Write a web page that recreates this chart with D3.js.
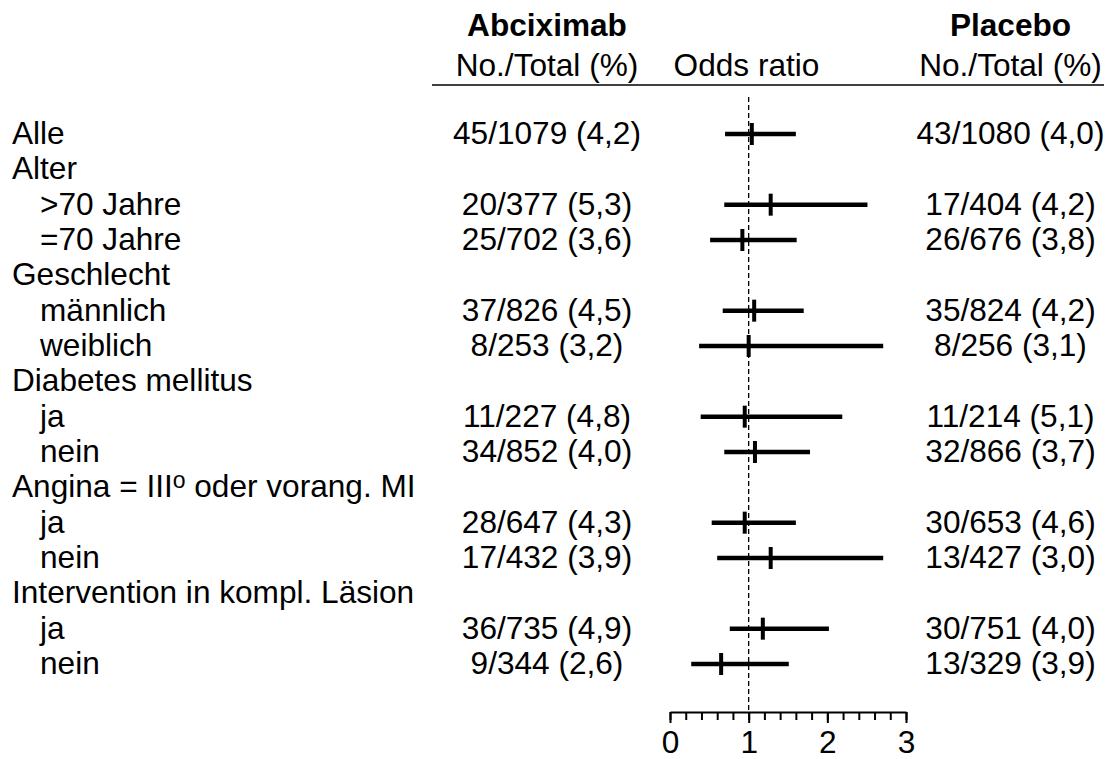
<!DOCTYPE html>
<html>
<head>
<meta charset="utf-8">
<script src="https://cdn.jsdelivr.net/npm/d3@7"></script>
<style>
  body { margin: 0; background: #fff; }
  text { font-family: "Liberation Sans", Arial, sans-serif; font-size: 31.6px; fill: #000; }
</style>
</head>
<body>
<script>

var labels = ["Alle", "Alter", ">70 Jahre", "=70 Jahre", "Geschlecht", "männlich", "weiblich",
    "Diabetes mellitus", "ja", "nein", "Angina = IIIº oder vorang. MI", "ja", "nein",
    "Intervention in kompl. Läsion", "ja", "nein"];
var indent = [0, 0, 1, 1, 0, 1, 1, 0, 1, 1, 0, 1, 1, 0, 1, 1];

// null = group heading, no numbers
var abcEvents = [45, null, 20, 25, null, 37, 8, null, 11, 34, null, 28, 17, null, 36, 9];
var abcTotal  = [1079, null, 377, 702, null, 826, 253, null, 227, 852, null, 647, 432, null, 735, 344];
var abcPct    = [4.2, null, 5.3, 3.6, null, 4.5, 3.2, null, 4.8, 4.0, null, 4.3, 3.9, null, 4.9, 2.6];
var plcEvents = [43, null, 17, 26, null, 35, 8, null, 11, 32, null, 30, 13, null, 30, 13];
var plcTotal  = [1080, null, 404, 676, null, 824, 256, null, 214, 866, null, 653, 427, null, 751, 329];
var plcPct    = [4.0, null, 4.2, 3.8, null, 4.2, 3.1, null, 5.1, 3.7, null, 4.6, 3.0, null, 4.0, 3.9];

var oddsRatio = [1.04, null, 1.28, 0.92, null, 1.07, 1.00, null, 0.95, 1.08, null, 0.95, 1.28, null, 1.18, 0.65];
var ciLow     = [0.70, null, 0.69, 0.51, null, 0.67, 0.37, null, 0.39, 0.69, null, 0.53, 0.60, null, 0.76, 0.27];
var ciHigh    = [1.60, null, 2.51, 1.61, null, 1.70, 2.71, null, 2.19, 1.78, null, 1.60, 2.71, null, 2.02, 1.51];

var majorTicks = [0, 1, 2, 3];

var width = 1115,
    height = 759;

const svg = d3.select("body")
    .append("svg")
    .attr("width", width)
    .attr("height", height);

var x = d3.scaleLinear().domain([0, 3]).range([670, 906]);
var y = d3.scalePoint().domain(d3.range(labels.length)).range([134, 664]);

var abcX = 547, plcX = 1010.5, textDy = 10;

function fmt(e, t, p) {
    return e + "/" + t + " (" + p.toFixed(1).replace(".", ",") + ")";
}

// column headers
svg.append("text").attr("x", abcX).attr("y", 36).attr("text-anchor", "middle")
    .style("font-weight", "bold").text("Abciximab");
svg.append("text").attr("x", plcX).attr("y", 36).attr("text-anchor", "middle")
    .style("font-weight", "bold").text("Placebo");
svg.append("text").attr("x", abcX).attr("y", 76).attr("text-anchor", "middle").text("No./Total (%)");
svg.append("text").attr("x", 746.5).attr("y", 76).attr("text-anchor", "middle").text("Odds ratio");
svg.append("text").attr("x", plcX).attr("y", 76).attr("text-anchor", "middle").text("No./Total (%)");

svg.append("line")
    .attr("x1", 432).attr("x2", 1104)
    .attr("y1", 85).attr("y2", 85)
    .style("stroke", "#000").style("stroke-width", 1.5);

// reference line at OR = 1
svg.append("line")
    .attr("x1", x(1)).attr("x2", x(1))
    .attr("y1", 97).attr("y2", 712)
    .style("stroke", "#000").style("stroke-width", 1.3)
    .style("stroke-dasharray", "5,3");

// row labels
var lab = svg.append("g").selectAll("text")
    .data(labels)
    .join("text")
    .attr("x", (d, i) => indent[i] ? 40 : 12)
    .attr("y", (d, i) => y(i) + textDy);

lab.each(function(d) {
    var parts = d.split("º");
    var t = d3.select(this);
    t.append("tspan").text(parts[0]);
    if (parts.length > 1) {
        t.append("tspan").attr("dy", -9).style("font-size", "23px").text("o");
        t.append("tspan").attr("dy", 9).text(parts[1]);
    }
});

var rows = d3.range(labels.length).filter(i => abcEvents[i] !== null);

svg.append("g").selectAll("text")
    .data(rows)
    .join("text")
    .attr("x", abcX)
    .attr("y", i => y(i) + textDy)
    .attr("text-anchor", "middle")
    .text(i => fmt(abcEvents[i], abcTotal[i], abcPct[i]));

svg.append("g").selectAll("text")
    .data(rows)
    .join("text")
    .attr("x", plcX)
    .attr("y", i => y(i) + textDy)
    .attr("text-anchor", "middle")
    .text(i => fmt(plcEvents[i], plcTotal[i], plcPct[i]));

// confidence intervals
svg.append("g").selectAll("line")
    .data(rows)
    .join("line")
    .attr("x1", i => x(ciLow[i]))
    .attr("x2", i => x(ciHigh[i]))
    .attr("y1", i => y(i))
    .attr("y2", i => y(i))
    .style("stroke", "#000")
    .style("stroke-width", 4.5);

svg.append("g").selectAll("line")
    .data(rows)
    .join("line")
    .attr("x1", i => x(oddsRatio[i]))
    .attr("x2", i => x(oddsRatio[i]))
    .attr("y1", i => y(i) - 11)
    .attr("y2", i => y(i) + 11)
    .style("stroke", "#000")
    .style("stroke-width", 4);

// axis
var axisY = 712;
var minor = svg.append("g")
    .attr("transform", "translate(0," + axisY + ")")
    .call(d3.axisBottom(x).tickValues(d3.range(0, 3.001, 0.2)).tickSize(8).tickSizeOuter(0).tickFormat(""));
minor.select(".domain").remove();
minor.selectAll("line").style("stroke-width", 2);

var major = svg.append("g")
    .attr("transform", "translate(0," + axisY + ")")
    .call(d3.axisBottom(x).tickValues(majorTicks).tickSize(11).tickSizeOuter(0).tickFormat(d3.format("d")));
major.select(".domain").style("stroke-width", 2);
major.selectAll("line").style("stroke-width", 2);
major.selectAll("text")
    .attr("y", 41).attr("dy", 0)
    .style("font-size", "31.6px")
    .style("font-family", "'Liberation Sans', Arial, sans-serif");
</script>
</body>
</html>
